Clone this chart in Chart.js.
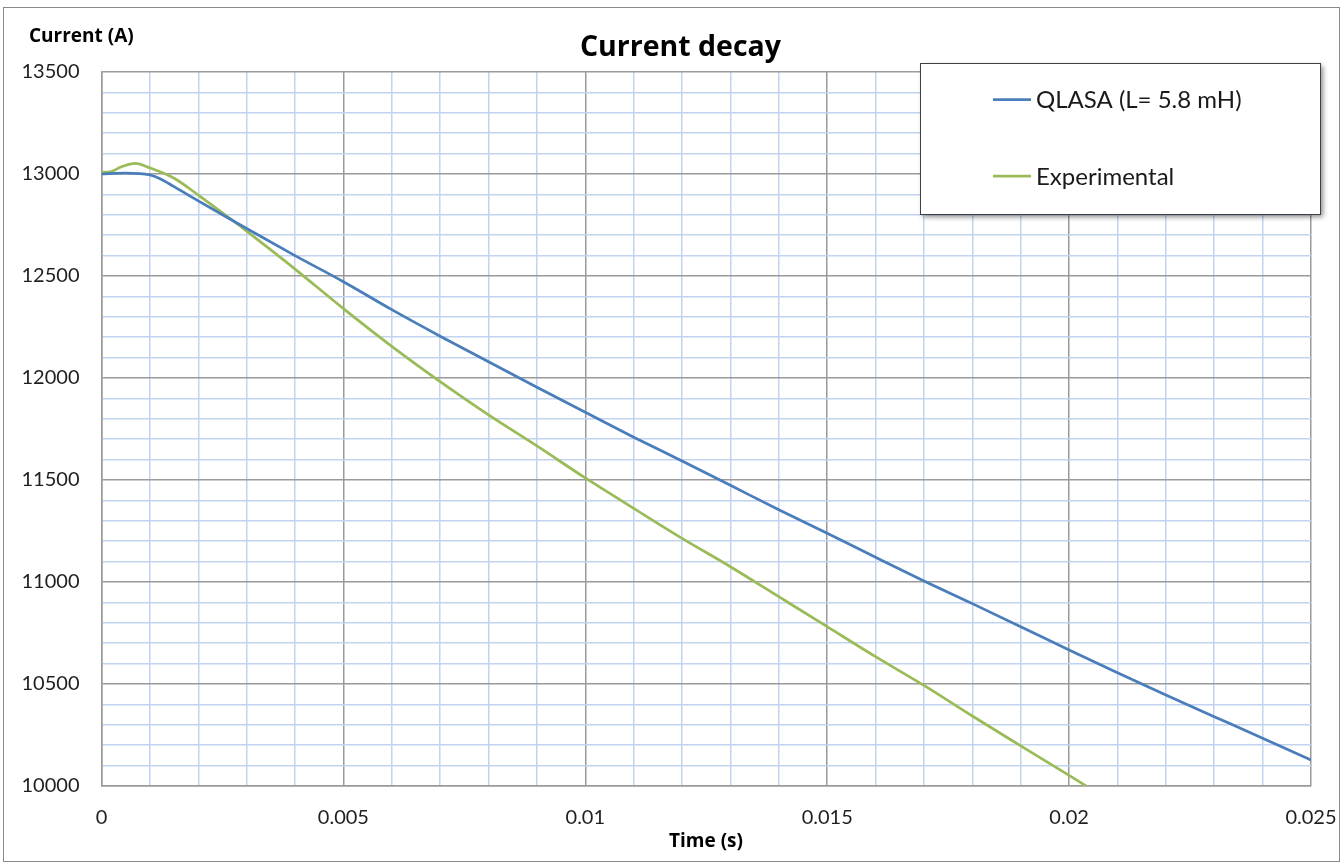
<!DOCTYPE html>
<html>
<head>
<meta charset="utf-8">
<script src="https://cdn.jsdelivr.net/npm/chart.js@4.4.1/dist/chart.umd.min.js"></script>
<style>
  html, body { margin: 0; padding: 0; background: #ffffff; }
  #wrap { width: 1343px; height: 864px; position: relative; }
</style>
</head>
<body>
<div id="wrap"><canvas id="c" width="1343" height="864"></canvas></div>
<script>
// Simulated current (QLASA model, L = 5.8 mH)
const qlasaTime = [0, 0.0005, 0.001, 0.0012, 0.0015, 0.002, 0.0025, 0.003, 0.004, 0.005,
  0.006, 0.007, 0.008, 0.009, 0.01, 0.011, 0.012, 0.013, 0.014, 0.015,
  0.016, 0.017, 0.018, 0.019, 0.02, 0.021, 0.022, 0.023, 0.024, 0.025];
const qlasaCurrent = [13000, 13004, 12995, 12978, 12938, 12868, 12800, 12733, 12600, 12472,
  12335, 12205, 12080, 11955, 11832, 11710, 11593, 11474, 11354, 11239,
  11121, 11005, 10894, 10781, 10667, 10555, 10446, 10340, 10234, 10127];

// Measured current
const expTime = [0, 0.0002, 0.0004, 0.0007, 0.001, 0.0015, 0.002, 0.0025, 0.003, 0.0035,
  0.004, 0.005, 0.006, 0.007, 0.008, 0.009, 0.01, 0.011, 0.012, 0.013,
  0.014, 0.015, 0.016, 0.017, 0.018, 0.019, 0.02, 0.02035];
const expCurrent = [13008, 13012, 13034, 13052, 13030, 12979, 12897, 12810, 12720, 12628,
  12534, 12340, 12155, 11982, 11819, 11667, 11510, 11361, 11214, 11075,
  10928, 10781, 10634, 10493, 10343, 10197, 10052, 10000];

const seriesNames = ['QLASA (L= 5.8 mH)', 'Experimental'];
const seriesColors = ['#4a7ebb', '#9bbb59'];

const xMin = 0, xMax = 0.025, xStep = 0.001, xMajor = 0.005;
const yMin = 10000, yMax = 13500, yStep = 100, yMajor = 500;

const chartTitle = 'Current decay';
const xTitle = 'Time (s)';
const yTitle = 'Current (A)';

const FONT = 'Lato, "Noto Sans", sans-serif';
const TITLE_FONT = '"Open Sans", Lato, sans-serif';
const MAJOR_GRID = '#9a9a9a';
const MINOR_GRID = '#c2d3ef';

function zip(xs, ys) { return xs.map((x, i) => ({ x: x, y: ys[i] })); }
function isMajor(v, step) { const r = v / step; return Math.abs(r - Math.round(r)) < 1e-6; }

// Page background, outer frame, titles and the boxed legend
const decor = {
  id: 'decor',
  beforeDraw(chart) {
    const ctx = chart.ctx;
    ctx.save();
    ctx.fillStyle = '#ffffff';
    ctx.fillRect(0, 0, chart.width, chart.height);
    ctx.restore();
  },
  afterDraw(chart) {
    const ctx = chart.ctx;
    ctx.save();
    // outer frame
    ctx.strokeStyle = '#8a8a8a';
    ctx.lineWidth = 1;
    ctx.strokeRect(3.5, 7.5, 1336, 854);

    ctx.fillStyle = '#000000';
    ctx.textBaseline = 'alphabetic';
    ctx.font = 'bold 28.5px ' + TITLE_FONT;
    ctx.textAlign = 'center';
    ctx.fillText(chartTitle, 680.5, 56);

    ctx.font = 'bold 19px ' + TITLE_FONT;
    ctx.textAlign = 'left';
    ctx.fillText(yTitle, 29, 42);

    ctx.textAlign = 'center';
    ctx.fillText(xTitle, 706, 847);

    // legend box with soft shadow
    const bx = 920, by = 63, bw = 400, bh = 151;
    ctx.save();
    ctx.shadowColor = 'rgba(0,0,0,0.45)';
    ctx.shadowBlur = 5;
    ctx.shadowOffsetX = 3;
    ctx.shadowOffsetY = 3;
    ctx.fillStyle = '#ffffff';
    ctx.fillRect(bx, by, bw, bh);
    ctx.restore();
    ctx.strokeStyle = '#404040';
    ctx.lineWidth = 1;
    ctx.strokeRect(bx + 0.5, by + 0.5, bw, bh);

    const rows = [99.5, 176];
    chart.data.datasets.forEach((ds, i) => {
      const y = rows[i];
      ctx.strokeStyle = ds.borderColor;
      ctx.lineWidth = 2.75;
      ctx.beginPath();
      ctx.moveTo(993, y);
      ctx.lineTo(1031, y);
      ctx.stroke();
      ctx.fillStyle = '#1a1a1a';
      ctx.font = '24px ' + FONT;
      ctx.textAlign = 'left';
      ctx.textBaseline = 'middle';
      ctx.fillText(ds.label, 1036, y + 1);
    });
    ctx.restore();
  }
};

new Chart(document.getElementById('c'), {
  type: 'line',
  data: {
    datasets: [
      { label: seriesNames[0], data: zip(qlasaTime, qlasaCurrent), borderColor: seriesColors[0],
        backgroundColor: seriesColors[0], borderWidth: 2.75, pointRadius: 0, cubicInterpolationMode: 'monotone', fill: false },
      { label: seriesNames[1], data: zip(expTime, expCurrent), borderColor: seriesColors[1],
        backgroundColor: seriesColors[1], borderWidth: 2.75, pointRadius: 0, cubicInterpolationMode: 'monotone', fill: false }
    ]
  },
  options: {
    responsive: false,
    devicePixelRatio: 1,
    animation: false,
    events: [],
    layout: { padding: { top: 72, left: 0, right: 32, bottom: 0 } },
    plugins: { legend: { display: false }, title: { display: false }, tooltip: { enabled: false } },
    scales: {
      x: {
        type: 'linear', min: xMin, max: xMax,
        afterFit(s) { s.height = 78; s.paddingLeft = 0; s.paddingRight = 0; },
        border: { display: true, color: MAJOR_GRID, width: 1.5 },
        grid: {
          drawTicks: false,
          lineWidth: 1.5,
          color: (c) => isMajor(c.tick.value, xMajor) ? MAJOR_GRID : MINOR_GRID
        },
        ticks: {
          stepSize: xStep, autoSkip: false, maxRotation: 0, padding: 20,
          color: '#1f1f1f', font: { family: FONT, size: 20 },
          callback: (v) => isMajor(v, xMajor) ? String(Number(v.toFixed(3))) : ''
        }
      },
      y: {
        type: 'linear', min: yMin, max: yMax,
        afterFit(s) { s.width = 101.5; s.paddingTop = 0; s.paddingBottom = 0; },
        border: { display: true, color: MAJOR_GRID, width: 1.5 },
        grid: {
          drawTicks: false,
          lineWidth: 1.5,
          color: (c) => isMajor(c.tick.value, yMajor) ? MAJOR_GRID : MINOR_GRID
        },
        ticks: {
          stepSize: yStep, autoSkip: false, padding: 22,
          color: '#1f1f1f', font: { family: FONT, size: 20 },
          callback: (v) => isMajor(v, yMajor) ? String(v) : ''
        }
      }
    }
  },
  plugins: [decor]
});
</script>
</body>
</html>
